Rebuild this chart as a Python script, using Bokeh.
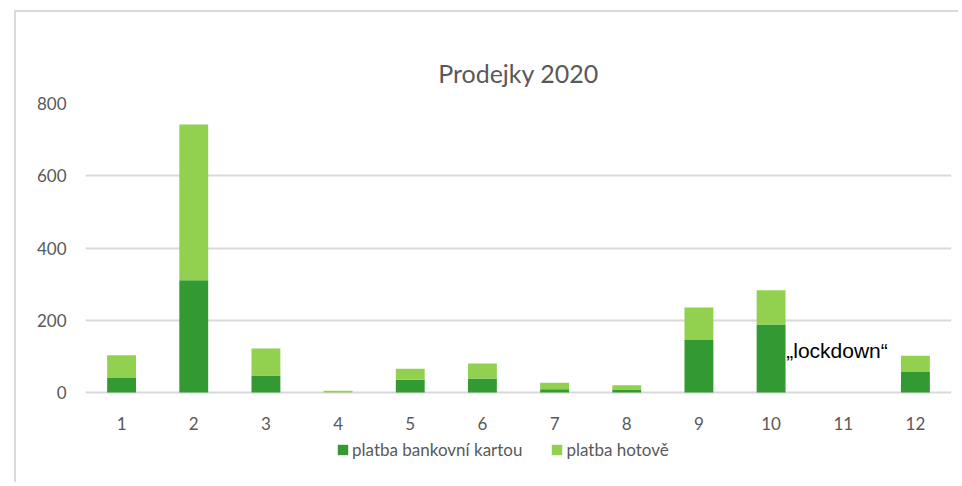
from bokeh.plotting import figure
from bokeh.models import ColumnDataSource, Legend, LegendItem, FixedTicker, Title
from bokeh.core.properties import value
from bokeh.embed import file_html
from bokeh.resources import INLINE

months = [1, 2, 3, 4, 5, 6, 7, 8, 9, 10, 11, 12]
karta = [40, 311, 47, 0, 35, 39, 9, 8, 145, 188, 0, 57]
hotove = [63, 431, 75, 5, 31, 41, 18, 12, 90, 95, 0, 45]
series_names = ["platba bankovní kartou", "platba hotově"]
colors = ["#339933", "#92d050"]
y_ticks = [0, 200, 400, 600, 800]
title_text = "Prodejky 2020"
note_text = "„lockdown“"

src = ColumnDataSource(dict(month=months, karta=karta, hotove=hotove))

p = figure(width=944, height=472, output_backend="svg", toolbar_location=None,
           x_range=(0.5, 12.5), y_range=(-232.5, 800),
           min_border_left=69, min_border_right=9, min_border_top=91, min_border_bottom=8)
p.outline_line_color = None
p.background_fill_color = "white"
p.border_fill_color = "white"
p.styles = {"border-left": "2px solid #d9d9d9", "border-top": "2px solid #d9d9d9",
            "margin-left": "14px", "margin-top": "10px"}

rs = p.vbar_stack(["karta", "hotove"], x="month", width=0.40, source=src,
                  color=colors, line_color=None)

p.add_layout(Title(text=title_text, align="center", text_font="Lato",
                   text_font_size="25px", text_font_style="normal",
                   text_color="#595959", standoff=32), "above")

p.xaxis.ticker = FixedTicker(ticks=months)
p.xaxis.fixed_location = 0
p.yaxis.ticker = FixedTicker(ticks=y_ticks)
for ax in (p.xaxis, p.yaxis):
    ax.axis_line_color = None
    ax.major_tick_line_color = None
    ax.minor_tick_line_color = None
    ax.major_label_text_color = "#595959"
    ax.major_label_text_font = "Lato"
    ax.major_label_text_font_size = "17px"
p.xaxis.major_label_standoff = 18
p.yaxis.major_label_standoff = 13

p.xgrid.grid_line_color = None
p.ygrid.grid_line_color = "#d9d9d9"
p.ygrid.grid_line_width = 2

p.text(x=[10.21], y=[115], text=[note_text], text_font=value("Liberation Sans"),
       text_font_size="21px", text_color="black", text_baseline="middle", text_align="left")

legend = Legend(items=[LegendItem(label=series_names[0], renderers=[rs[0]]),
                       LegendItem(label=series_names[1], renderers=[rs[1]])],
                orientation="horizontal", location=(251, 16),
                label_text_font="Lato", label_text_font_size="17px",
                label_text_color="#595959", glyph_width=13, glyph_height=13,
                label_standoff=3, spacing=28, padding=0, margin=0,
                border_line_color=None, background_fill_alpha=0)
p.add_layout(legend)

open("out.html", "w").write(file_html(p, INLINE))
